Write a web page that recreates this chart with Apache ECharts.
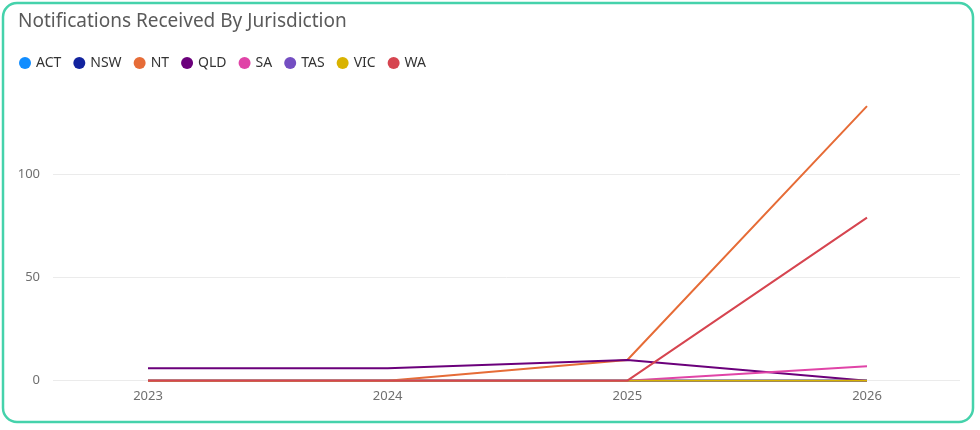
<!DOCTYPE html>
<html>
  <head>
    <meta charset="utf-8">
    <title>Notifications Received By Jurisdiction</title>
    <style type="text/css">
    html,body{margin:0;padding:0;background:#fff;}
    #main{width:980px;height:430px;}
    </style>
    <script src="https://cdn.jsdelivr.net/npm/echarts@6/dist/echarts.min.js"></script>
  </head>
  <body>
    <div id="main"></div>
    <script type="text/javascript">
      // years on the x axis
      var years = ['2023', '2024', '2025', '2026'];
      var jurisdictions = ['ACT', 'NSW', 'NT', 'QLD', 'SA', 'TAS', 'VIC', 'WA'];
      var colors = ['#118DFF', '#12239E', '#E66C37', '#6B007B', '#E044A7', '#744EC2', '#D9B300', '#D64550'];
      // notifications per year
      var act = [0, 0, 0, 0];
      var nsw = [0, 0, 0, 0];
      var nt  = [0, 0, 10, 133];
      var qld = [6, 6, 10, 0];
      var sa  = [0, 0, 0, 7];
      var tas = [0, 0, 0, 0];
      var vic = [0, 0, 0, 0];
      var wa  = [0, 0, 0, 79];
      var yTicks = [0, 50, 100];

      var values = [act, nsw, nt, qld, sa, tas, vic, wa];
      var font = '"Noto Sans", "DejaVu Sans", sans-serif';

      var series = [];
      for (var i = 0; i < jurisdictions.length; i++) {
        series.push({
          name: jurisdictions[i],
          type: 'line',
          xAxisIndex: 0,
          yAxisIndex: 0,
          symbol: 'none',
          lineStyle: {width: 2},
          data: values[i]
        });
      }

      var chart = echarts.init(document.getElementById('main'));
      var option = {
        animation: false,
        color: colors,
        title: {
          text: 'Notifications Received By Jurisdiction',
          left: 13,
          top: 7,
          textStyle: {fontFamily: font, fontSize: 19, fontWeight: 'normal', color: '#5a5a5a'}
        },
        legend: {
          left: 14,
          top: 51,
          icon: 'circle',
          itemWidth: 12,
          itemHeight: 12,
          itemGap: 12,
          textStyle: {fontFamily: font, fontSize: 14, color: '#333'},
          data: jurisdictions
        },
        graphic: [{
          type: 'rect',
          shape: {x: 3, y: 3, width: 970, height: 419, r: 14},
          style: {fill: 'none', stroke: '#45d2ab', lineWidth: 2.5},
          silent: true
        }],
        grid: [
          {left: 148, right: 113, top: 91.7, bottom: 49.3},
          {left: 53, right: 20, top: 174.3, bottom: 49.3}
        ],
        xAxis: [
          {
            type: 'category',
            gridIndex: 0,
            boundaryGap: false,
            data: years,
            axisLine: {show: false},
            axisTick: {show: false},
            axisLabel: {margin: 9, fontFamily: font, fontSize: 13, color: '#6f6f6f'}
          },
          {type: 'category', gridIndex: 1, data: years, show: false}
        ],
        yAxis: [
          {type: 'value', gridIndex: 0, min: 0, max: 140, show: false},
          {
            type: 'value',
            gridIndex: 1,
            min: yTicks[0],
            max: yTicks[yTicks.length - 1],
            interval: 50,
            axisLine: {show: false},
            axisTick: {show: false},
            axisLabel: {margin: 13, fontFamily: font, fontSize: 13, color: '#6f6f6f'},
            splitLine: {lineStyle: {color: '#ebebeb', width: 1}}
          }
        ],
        series: series
      };
      chart.setOption(option);
    </script>
  </body>
</html>
